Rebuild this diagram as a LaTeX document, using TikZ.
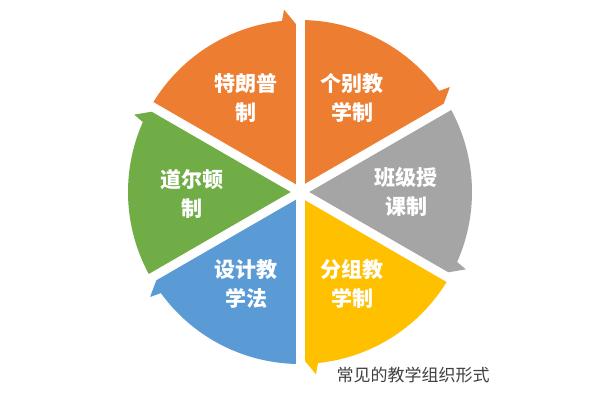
\documentclass[tikz,border=0pt]{standalone}
\usepackage{fontspec}
\setmainfont{Noto Sans CJK SC}
\definecolor{cOrange}{HTML}{ED7D31}
\definecolor{cGray}{HTML}{A5A5A5}
\definecolor{cYellow}{HTML}{FFC000}
\definecolor{cBlue}{HTML}{5B9BD5}
\definecolor{cGreen}{HTML}{70AD47}
\definecolor{cCap}{HTML}{404040}
\newcommand\cycsector[2]{%
  \fill[#2] (0,0) -- (#1:172) arc[start angle=#1, delta angle=-54, radius=172] -- (#1-55:183) -- (#1-60:163) -- cycle;}
\begin{document}
\begin{tikzpicture}[x=1pt,y=1pt,
  lbl/.style={text=white, font=\bfseries\fontsize{21}{29}\selectfont, align=center, inner sep=0pt},
  captiontext/.style={text=cCap, font=\fontsize{17}{19}\selectfont, inner sep=0pt}]
\useasboundingbox[fill=white] (0,0) rectangle (600,400);
\begin{scope}[shift={(300,208)}]
  \cycsector{90}{cOrange}
  \cycsector{30}{cGray}
  \cycsector{-30}{cYellow}
  \cycsector{-90}{cBlue}
  \cycsector{-150}{cGreen}
  \cycsector{150}{cOrange}
  \foreach \a in {90,30,-30,-90,-150,150}
    \draw[white, line width=9pt] (0,0) -- (\a:200);
\end{scope}
\node[lbl] (t1) at (246,302) {特朗普\\制};
\node[lbl] (t2) at (352,302) {个别教\\学制};
\node[lbl] (t3) at (406,208) {班级授\\课制};
\node[lbl] (t4) at (352,116) {分组教\\学制};
\node[lbl] (t5) at (246,116) {设计教\\学法};
\node[lbl] (t6) at (192,206) {道尔顿\\制};
\node[captiontext] (caption) at (413,25) {常见的教学组织形式};
\end{tikzpicture}
\end{document}
